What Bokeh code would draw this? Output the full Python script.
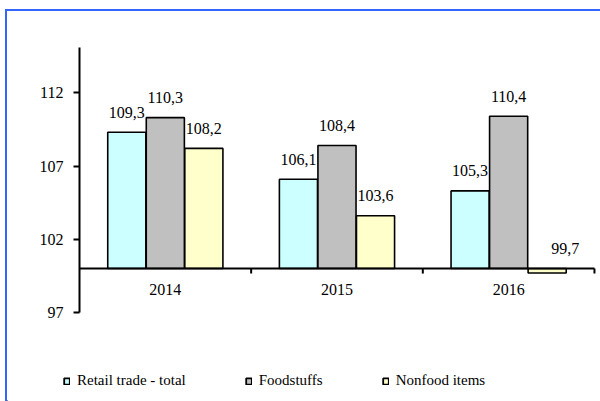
import numpy as np
from bokeh.plotting import figure
from bokeh.layouts import column
from bokeh.models import Range1d, FixedTicker, Legend, LegendItem, ColumnDataSource
from bokeh.core.properties import value
from bokeh.embed import file_html
from bokeh.resources import INLINE

# ---------------- data ----------------
years = ["2014", "2015", "2016"]
series_names = ["Retail trade - total", "Foodstuffs", "Nonfood items"]
retail_total = [109.3, 106.1, 105.3]
foodstuffs = [110.3, 108.4, 110.4]
nonfood_items = [108.2, 103.6, 99.7]
y_ticks = [97, 102, 107, 112]
base_value = 100
colors = ["#CCFFFF", "#C0C0C0", "#FFFFCC"]

FONT = "Liberation Serif"
BORDER = "#3366FF"

# ---------------- geometry ----------------
px_per_unit = 14.65
Y_AXIS_MIN = 97
FRAME_BOTTOM = 335
Y_END = Y_AXIS_MIN + (312 - 47) / px_per_unit
Y_START = Y_AXIS_MIN - (FRAME_BOTTOM - 312) / px_per_unit
n_cat = len(years)
X_END = n_cat + 3 / 169.33

p = figure(width=593, height=FRAME_BOTTOM - 11, output_backend="svg", toolbar_location=None,
           x_range=Range1d(0, X_END), y_range=Range1d(Y_START, Y_END),
           x_axis_location=None,
           min_border_left=72, min_border_top=36, min_border_right=3, min_border_bottom=0)
p.frame_align = False
p.xgrid.visible = False
p.ygrid.visible = False
p.outline_line_color = None
p.background_fill_color = "white"
p.border_fill_color = "white"

ax = p.yaxis[0]
ax.ticker = FixedTicker(ticks=y_ticks)
ax.bounds = (Y_AXIS_MIN, Y_END)
ax.axis_line_width = 2
ax.axis_line_color = "black"
ax.major_tick_line_width = 2
ax.major_tick_out = 6
ax.major_tick_in = 0
ax.minor_tick_out = 0
ax.minor_tick_in = 0
ax.major_label_standoff = 10
ax.major_label_text_font = FONT
ax.major_label_text_font_size = "16px"
ax.major_label_text_color = "black"

series = [retail_total, foodstuffs, nonfood_items]
bar_w = 0.222
offsets = [-0.2245, 0.0, 0.2245]
centers = np.arange(n_cat) + 0.5

for vals, off, col in zip(series, offsets, colors):
    xs = centers + off
    p.vbar(x=xs, top=vals, bottom=base_value, width=bar_w,
           fill_color=col, line_color="black", line_width=1.6)

# category axis at base value
p.segment(x0=[0], y0=[base_value], x1=[n_cat], y1=[base_value],
          line_color="black", line_width=2)
tick_x = np.arange(1, n_cat + 1)
p.segment(x0=tick_x, y0=[base_value] * n_cat, x1=tick_x,
          y1=[base_value - 5 / px_per_unit] * n_cat, line_color="black", line_width=2)
p.text(x=centers, y=[base_value] * n_cat, text=years, y_offset=21,
       text_font=value(FONT), text_font_size="16px", text_align="center",
       text_baseline="middle", text_color="black")

# data labels
for vals, off in zip(series, offsets):
    xs = centers + off
    ys = [max(v, base_value) for v in vals]
    xo = [18 if v < base_value else 0 for v in vals]
    txt = [f"{v:.1f}".replace(".", ",") for v in vals]
    src = ColumnDataSource(dict(x=xs, y=ys, t=txt, xo=xo))
    p.text(x="x", y="y", text="t", x_offset="xo", y_offset=-20, source=src,
           text_font=value(FONT), text_font_size="16px", text_align="center",
           text_baseline="middle", text_color="black")

# ---------------- legend strip ----------------
lf = figure(width=593, height=401 - FRAME_BOTTOM, output_backend="svg", toolbar_location=None,
            x_range=Range1d(0, 1), y_range=Range1d(0, 1),
            x_axis_location=None, y_axis_location=None,
            min_border_left=0, min_border_right=0, min_border_top=0, min_border_bottom=0)
lf.frame_align = False
lf.grid.visible = False
lf.outline_line_color = None
lf.border_fill_color = "white"

leg_renderers = []
for col in colors:
    # hidden swatch renderers (outside the visible range) that carry the legend styling
    r = lf.vbar(x=[-1.0], top=[-1.0], bottom=-2.0, width=0.1, fill_color=col,
                line_color="black", line_width=1.8)
    leg_renderers.append(r)

legend = Legend(items=[LegendItem(label=n, renderers=[r]) for n, r in zip(series_names, leg_renderers)],
                orientation="horizontal", location=(56, 12))
legend.padding = 0
legend.margin = 0
legend.border_line_color = None
legend.background_fill_alpha = 0
legend.glyph_width = 7
legend.glyph_height = 8
legend.label_standoff = 7
legend.spacing = 59
legend.label_text_font = FONT
legend.label_text_font_size = "15px"
legend.label_text_color = "black"
lf.add_layout(legend, "center")

layout = column(p, lf, spacing=0)
layout.styles = {"border-left": "2px solid " + BORDER, "border-top": "2px solid " + BORDER,
                 "position": "relative", "left": "5px", "top": "9px"}

open("out.html", "w").write(file_html(layout, INLINE))
